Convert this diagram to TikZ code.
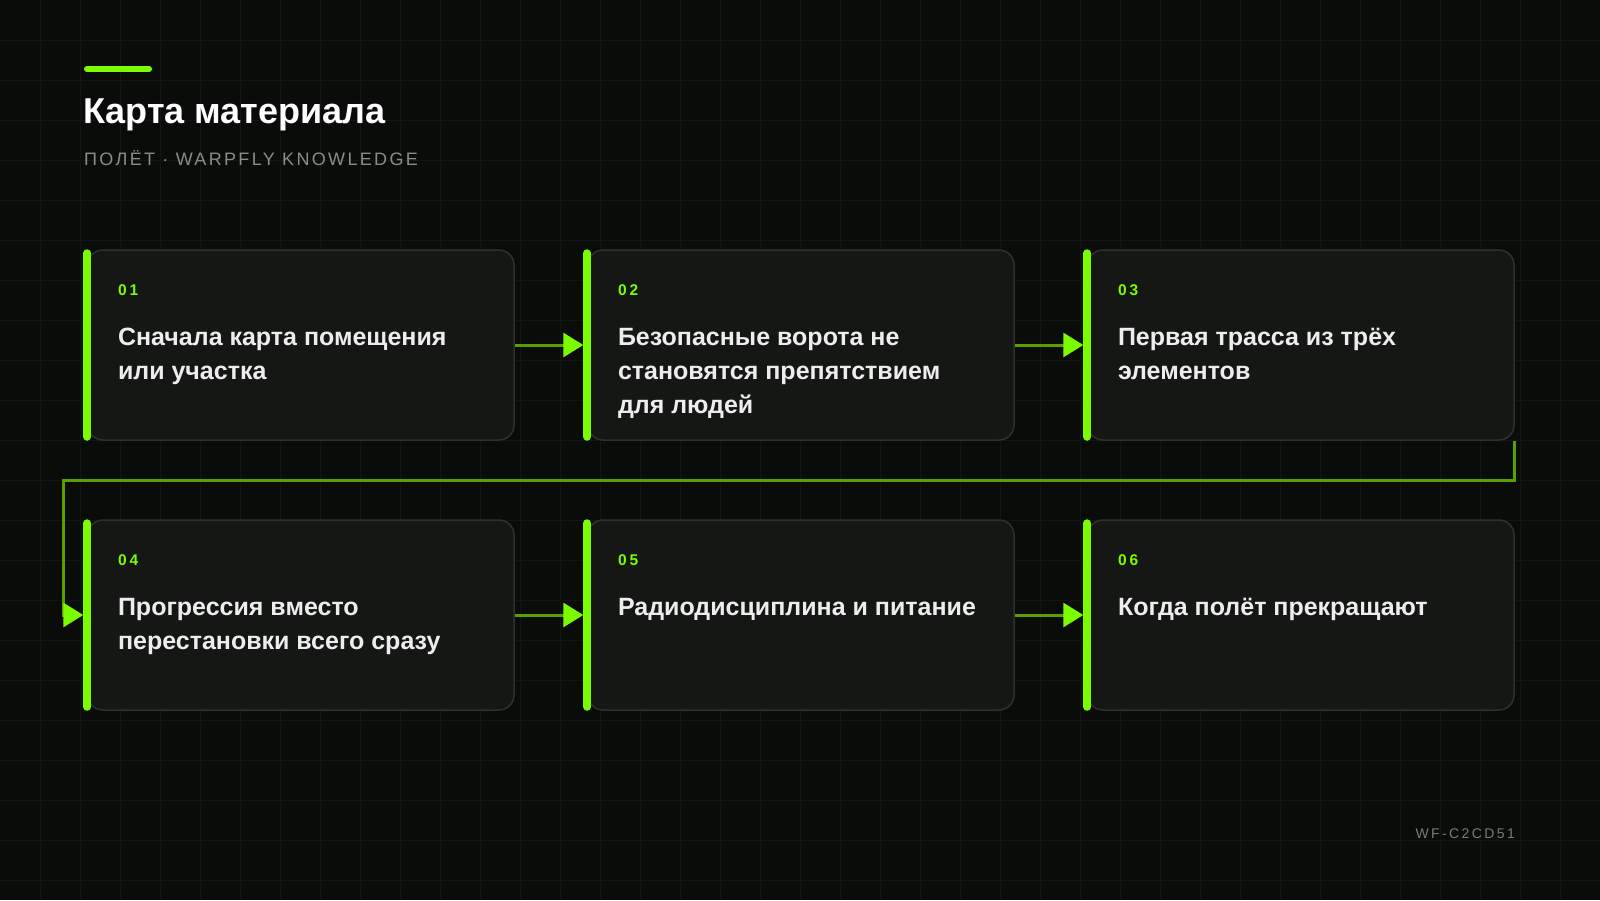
\documentclass[tikz,border=0pt]{standalone}
\usepackage{fontspec}
\setmainfont{Liberation Sans}
\newfontfamily\numfam[LetterSpace=20]{Liberation Sans}
\newfontfamily\subfam[LetterSpace=13]{Liberation Sans}
\newfontfamily\tagfam[LetterSpace=17]{Liberation Sans}
\usetikzlibrary{positioning,arrows.meta}

\definecolor{bgcol}{HTML}{0A0C0A}
\definecolor{gridcol}{HTML}{121512}
\definecolor{cardfill}{HTML}{151715}
\definecolor{cardline}{HTML}{2E312E}
\definecolor{accent}{HTML}{7CFC00}
\definecolor{flowcol}{HTML}{5A9E00}
\definecolor{bodytext}{HTML}{EDEDED}
\definecolor{subtext}{HTML}{8C8C8C}
\definecolor{tagtext}{HTML}{7A7A7A}

% card content: number on top, title below, both from the upper left
\newcommand\cardbody[2]{\parbox[c][190pt][t]{366pt}{\raggedright\vspace*{35pt}%
  {\noindent\numfam\bfseries\fontsize{15.5}{18}\selectfont\textcolor{accent}{#1}\par}\vspace{16pt}%
  {\noindent\bfseries\fontsize{25}{34}\selectfont\textcolor{bodytext}{#2}\par}}}

\begin{document}
\begin{tikzpicture}[x = 1pt, y = -1pt, node distance = 270pt and 500pt, on grid,
  card/.style = {rectangle, rounded corners = 15pt, fill = cardfill, draw = cardline, line width = 1.5pt,
    minimum width = 426pt, minimum height = 190pt, inner sep = 0pt},
  accentbar/.style = {draw = accent, line width = 8pt, line cap = round, shorten <= 4pt, shorten >= 4pt},
  flow/.style = {draw = flowcol, line width = 3pt, -{Triangle[length = 20pt, width = 24pt, color = accent]}, shorten >= 4pt},
  gridline/.style = {draw = gridcol, line width = 1pt}]
  \useasboundingbox (0,0) rectangle (1600,900);
  \fill[bgcol] (0,0) rectangle (1600,900);
  \foreach \i in {40,80,...,1560} \draw[gridline] (\i,0) -- (\i,900);
  \foreach \j in {40,80,...,880} \draw[gridline] (0,\j) -- (1600,\j);

  % heading
  \draw[accent, line width = 6pt, line cap = round] (87,69) -- (149,69);
  \node[anchor = base west, inner sep = 0pt, text = white, font = \bfseries\fontsize{36}{40}\selectfont] (ttl) at (83,123) {Карта материала};
  \node[anchor = base west, inner sep = 0pt, text = subtext, font = \subfam\fontsize{18}{20}\selectfont] (sub) at (84,165) {ПОЛЁТ · WARPFLY KNOWLEDGE};

  % cards
  \node[card] (c1) at (301,345) {\cardbody{01}{Сначала карта помещения\\или участка}};
  \node[card] (c2) [right = of c1] {\cardbody{02}{Безопасные ворота не\\становятся препятствием\\для людей}};
  \node[card] (c3) [right = of c2] {\cardbody{03}{Первая трасса из трёх\\элементов}};
  \node[card] (c4) [below = of c1] {\cardbody{04}{Прогрессия вместо\\перестановки всего сразу}};
  \node[card] (c5) [right = of c4] {\cardbody{05}{Радиодисциплина и питание}};
  \node[card] (c6) [right = of c5] {\cardbody{06}{Когда полёт прекращают}};
  \foreach \c in {c1,c2,c3,c4,c5,c6} \draw[accentbar] (\c.north west) -- (\c.south west);

  % connectors
  \path[flow] (c1) edge (c2);
  \path[flow] (c2) edge (c3);
  \path[flow] (c4) edge (c5);
  \path[flow] (c5) edge (c6);
  \draw[flow] (c3.south east) -- ++(0,40) -| ([xshift = -24pt]c4.west) -- (c4.west);

  \node[anchor = base east, inner sep = 0pt, text = tagtext, font = \tagfam\fontsize{14}{16}\selectfont] (tag) at (1515,838) {WF-C2CD51};
\end{tikzpicture}
\end{document}
